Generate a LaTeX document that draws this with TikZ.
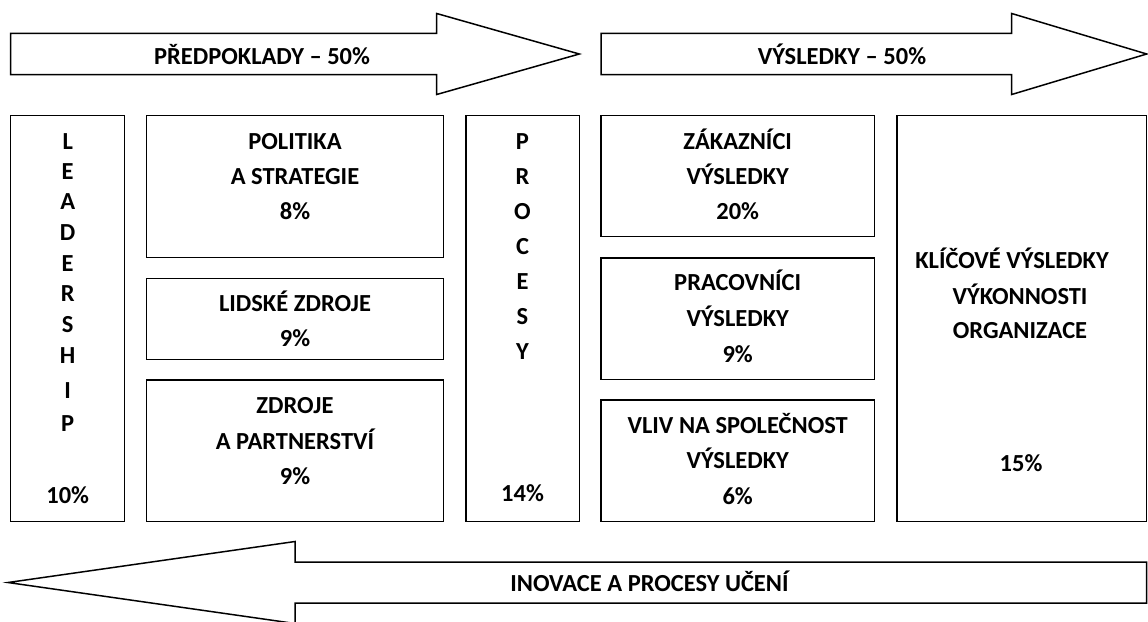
\documentclass[tikz,border=0pt]{standalone}
\usepackage{fontspec}
\setmainfont{Carlito}
\begin{document}
\begin{tikzpicture}[x=1pt,y=-1pt,
  box/.style={draw, line width=1.5pt, anchor=north west, inner sep=0pt, outer sep=0pt},
  txt/.style={anchor=base, inner sep=0pt, font=\fontsize{24.5}{29}\selectfont\bfseries},
  arrowshape/.style={draw, line width=1.5pt, line join=miter, fill=white}]
\useasboundingbox[fill=white] (0,0) rectangle (1148,621);

% big arrows
\draw[arrowshape] (10.7,33.3) -- (436.7,33.3) -- (436.7,13.5) -- (579.3,54) -- (436.7,94.5) -- (436.7,74.7) -- (10.7,74.7) -- cycle;
\draw[arrowshape] (601,33.3) -- (1011.7,33.3) -- (1011.7,13.5) -- (1146.7,54) -- (1011.7,94.5) -- (1011.7,74.7) -- (601,74.7) -- cycle;
\draw[arrowshape] (1146.7,562) -- (295,562) -- (295,541.5) -- (8,582.5) -- (295,623.5) -- (295,603) -- (1146.7,603) -- cycle;

\node[txt] (tpred) at (262,64.3) {PŘEDPOKLADY – 50\%};
\node[txt] (tvys) at (842,64.3) {VÝSLEDKY – 50\%};
\node[txt] (tinov) at (649.5,591.7) {INOVACE A PROCESY UČENÍ};

% boxes
\node[box, minimum width=114pt, minimum height=406.4pt] (lead) at (10.7,115.3) {};
\node[box, minimum width=296.6pt, minimum height=142pt] (pol) at (146.7,115.3) {};
\node[box, minimum width=296.6pt, minimum height=81pt] (lid) at (146.7,278.3) {};
\node[box, minimum width=296.6pt, minimum height=141.7pt] (zdr) at (146.7,380) {};
\node[box, minimum width=113.5pt, minimum height=406.4pt] (proc) at (466,115.3) {};
\node[box, minimum width=273.5pt, minimum height=121.4pt] (zak) at (601,115.3) {};
\node[box, minimum width=273.5pt, minimum height=121.3pt] (prac) at (601,258) {};
\node[box, minimum width=273.5pt, minimum height=121.7pt] (vliv) at (601,400) {};
\node[box, minimum width=249.7pt, minimum height=406.4pt] (klic) at (897,115.3) {};

% LEADERSHIP
\foreach \c/\y [count=\i] in {L/141.7, E/171, A/201.7, D/232.7, E/263, R/293, S/324, H/355, I/390, P/423}
  \node[txt] (lead\i) at (67.7,\y+8) {\c};
\node[txt] (leadp) at (67.7,503.7) {10\%};

% Politika
\node[txt] (pol1) at (295,149.7) {POLITIKA};
\node[txt] (pol2) at (295,184) {A STRATEGIE};
\node[txt] (pol3) at (295,219) {8\%};
% Lidske zdroje
\node[txt] (lid1) at (295,311.3) {LIDSKÉ ZDROJE};
\node[txt] (lid2) at (295,346.3) {9\%};
% Zdroje
\node[txt] (zdr1) at (295,413) {ZDROJE};
\node[txt] (zdr2) at (295,449.7) {A PARTNERSTVÍ};
\node[txt] (zdr3) at (295,484.7) {9\%};

% PROCESY
\foreach \c/\y [count=\i] in {P/141.7, R/176, O/211, C/246.7, E/281.7, S/316.7, Y/351.7}
  \node[txt] (proc\i) at (522.5,\y+8) {\c};
\node[txt] (procp) at (522.5,501) {14\%};

% Zakaznici
\node[txt] (zak1) at (737.7,149.7) {ZÁKAZNÍCI};
\node[txt] (zak2) at (737.7,184) {VÝSLEDKY};
\node[txt] (zak3) at (737.7,219) {20\%};
% Pracovnici
\node[txt] (prac1) at (737.7,290.7) {PRACOVNÍCI};
\node[txt] (prac2) at (737.7,326) {VÝSLEDKY};
\node[txt] (prac3) at (737.7,362) {9\%};
% Vliv
\node[txt] (vliv1) at (737.7,433) {VLIV NA SPOLEČNOST};
\node[txt] (vliv2) at (737.7,468) {VÝSLEDKY};
\node[txt] (vliv3) at (737.7,504.7) {6\%};
% Klicove
\node[txt] (klic1) at (1012,268) {KLÍČOVÉ VÝSLEDKY};
\node[txt] (klic2) at (1020,304) {VÝKONNOSTI};
\node[txt] (klic3) at (1020,338) {ORGANIZACE};
\node[txt] (klic4) at (1021,471) {15\%};
\end{tikzpicture}
\end{document}
